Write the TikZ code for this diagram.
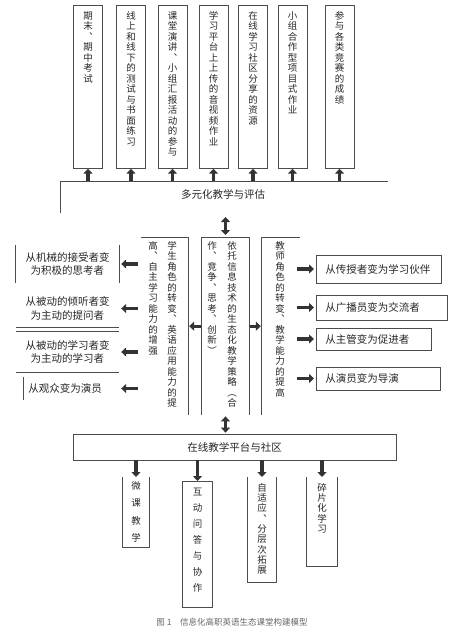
\documentclass[tikz,border=0pt]{standalone}
\usepackage{fontspec}
\setmainfont{Noto Sans CJK SC}
\newfontfamily\vertfont[RawFeature=+vert]{Noto Sans CJK SC}
\usetikzlibrary{arrows.meta}

% stack the characters of a text one under the other
\newcommand\vtxt[1]{\def\vtxtacc{}\expandafter\vtxtfirst#1\relax\vtxtacc}
\def\vtxtfirst#1{\def\vtxtacc{#1}\vtxtnext}
\def\vtxtnext#1{\ifx\relax#1\else
  \expandafter\def\expandafter\vtxtacc\expandafter{\vtxtacc\\#1}%
  \expandafter\vtxtnext\fi}

\begin{document}
\begin{tikzpicture}[
    x=1pt, y=-1pt,
    >={Triangle[length=5pt, width=9pt]},
    frame/.style={draw=black!70, line width=0.7pt},
    box/.style={frame, inner sep=0pt, anchor=north},
    blank/.style={inner sep=0pt, anchor=north},
    vt/.style={anchor=north, align=center, inner sep=0pt, text=black!85,
        font=\vertfont\fontsize{9.5}{10.5}\selectfont},
    ht/.style={align=center, inner sep=0pt, text=black!85,
        font=\fontsize{10.5}{13.5}\selectfont},
    rbox/.style={frame, anchor=west, align=left, inner xsep=9pt, inner ysep=0pt,
        text=black!85, font=\fontsize{10.5}{13.5}\selectfont},
    fat/.style={->, line width=3.4pt, black!80},
    fatboth/.style={<->, line width=3.4pt, black!80}
]

    \useasboundingbox (0,0) rectangle (456,632);

    % assessment items
    \foreach \n/\xc/\txt in {1/88/期末、期中考试, 2/131/线上和线下的测试与书面练习,
        3/172.5/课堂演讲、小组汇报活动的参与, 4/213.5/学习平台上上传的音视频作业,
        5/253/在线学习社区分享的资源, 6/292.5/小组合作型项目式作业,
        7/339.5/参与各类竞赛的成绩} {
        \node[box, minimum width=29pt, minimum height=163pt] (t\n) at (\xc,5) {};
        \node[vt] (tx\n) at ([yshift=-6pt]t\n.north) {\vtxt{\txt}};
    }

    \coordinate (evL) at (60,181);
    \coordinate (evR) at (388,181);
    \draw[frame] (evR) -- (evL) -- ++(0,32);
    \node[ht] (eval) at (223,194) {多元化教学与评估};
    \foreach \n in {1,...,7}
        \draw[fat] (t\n.south |- evL) -- (t\n.south);

    % the three columns
    \node[blank, minimum width=47pt, minimum height=178pt] (lcol) at (164.5,237) {};
    \node[blank, minimum width=47pt, minimum height=178pt] (cbox) at (225.5,237) {};
    \node[blank, minimum width=38pt, minimum height=178pt] (rcol) at (281,237) {};
    \draw[frame] (lcol.north west) -- (lcol.north east) -- (lcol.south east);
    \draw[frame] (cbox.south west) -- (cbox.north west) -- (cbox.north east) -- (cbox.south east);
    \draw[frame] (rcol.south west) -- (rcol.north west) -- (rcol.north east);

    \node[vt] (lcolA) at (172,241) {\vtxt{学生角色的转变、英语应用能力的提}};
    \node[vt] (lcolB) at (153,241) {\vtxt{高、自主学习能力的增强}};
    \node[vt] (cboxA) at (232,241) {\vtxt{依托信息技术的生态化教学策略（合}};
    \node[vt] (cboxB) at (212,241) {\vtxt{作、竞争、思考、创新）}};
    \node[vt] (rcolA) at (280,241) {\vtxt{教师角色的转变、教学能力的提高}};

    \coordinate (dup) at (225.5,217);
    \draw[fatboth, shorten >=2pt] (dup) -- (cbox.north);
    \draw[fat, shorten <=1pt, shorten >=1pt] (cbox.west) -- (lcol.east);
    \draw[fat, shorten <=1pt, shorten >=1pt] (cbox.east) -- (rcol.west);

    % students
    \node[ht, minimum width=103pt, minimum height=38pt] (sl1) at (67.5,264) {从机械的接受者变\\为积极的思考者};
    \node[ht, minimum width=103pt, minimum height=37pt] (sl2) at (67.5,308.5) {从被动的倾听者变\\为主动的提问者};
    \node[ht, minimum width=103pt, minimum height=40pt] (sl3) at (67.5,352) {从被动的学习者变\\为主动的学习者};
    \node[ht, minimum width=82pt, minimum height=23pt] (sl4) at (65,388.5) {从观众变为演员};
    \draw[frame] (sl1.north west) -- (sl1.south west) (sl1.north east) -- (sl1.south east);
    \draw[frame] (sl2.south west) -- (sl2.south east);
    \draw[frame] (sl3.north west) -- (sl3.north east) (sl3.south west) -- (sl3.south east);
    \draw[frame] (sl4.north west) -- (sl4.south west);
    \foreach \n in {1,...,4}
        \draw[fat, shorten <=3pt, shorten >=2pt] (lcol.west |- sl\n) -- (sl1.east |- sl\n);

    % teachers
    \node[rbox, text width=107pt, minimum height=28pt] (rs1) at (316,269) {从传授者变为学习伙伴};
    \node[rbox, text width=113pt, minimum height=25pt] (rs2) at (316,307.5) {从广播员变为交流者};
    \node[rbox, text width=97pt, minimum height=22pt] (rs3) at (316,339) {从主管变为促进者};
    \node[rbox, text width=106pt, minimum height=23pt] (rs4) at (316,378.5) {从演员变为导演};
    \foreach \n in {1,...,4}
        \draw[fat, shorten <=-3pt, shorten >=2pt] (rcol.east |- rs\n) -- (rs\n.west);

    % platform
    \node[frame, ht, minimum width=323pt, minimum height=26pt] (plat) at (234.5,447) {在线教学平台与社区};
    \draw[fatboth, shorten <=1pt, shorten >=1pt] (cbox.south) -- (cbox.south |- plat.north);

    \node[blank, minimum width=26pt, minimum height=70pt] (b1) at (136,477) {};
    \node[blank, minimum width=29pt, minimum height=126pt] (b2) at (197.5,481) {};
    \node[blank, minimum width=28pt, minimum height=105pt] (b3) at (262,477) {};
    \node[blank, minimum width=30pt, minimum height=89pt] (b4) at (322,477) {};
    \foreach \n in {1,...,4} {
        \draw[frame] (b\n.north west) -- (b\n.south west) -- (b\n.south east) -- (b\n.north east);
        \draw[fat] (plat.south -| b\n.north) -- (b\n.north);
    }
    \draw[frame] (b2.north west) -- (b2.north east);

    \node[vt, font=\vertfont\fontsize{9.5}{17.5}\selectfont] (bx1) at ([yshift=-4pt]b1.north) {\vtxt{微课教学}};
    \node[vt, font=\vertfont\fontsize{9.5}{16}\selectfont] (bx2) at ([yshift=-7pt]b2.north) {\vtxt{互动问答与协作}};
    \node[vt, font=\vertfont\fontsize{9.5}{10.3}\selectfont] (bx3) at ([yshift=-6pt]b3.north) {\vtxt{自适应、分层次拓展}};
    \node[vt, font=\vertfont\fontsize{9.5}{10.3}\selectfont] (bx4) at ([yshift=-6pt]b4.north) {\vtxt{碎片化学习}};

    \node[text=black!60, font=\fontsize{8.5}{10}\selectfont] (cap) at (232,622) {图 1\quad 信息化高职英语生态课堂构建模型};

\end{tikzpicture}
\end{document}
